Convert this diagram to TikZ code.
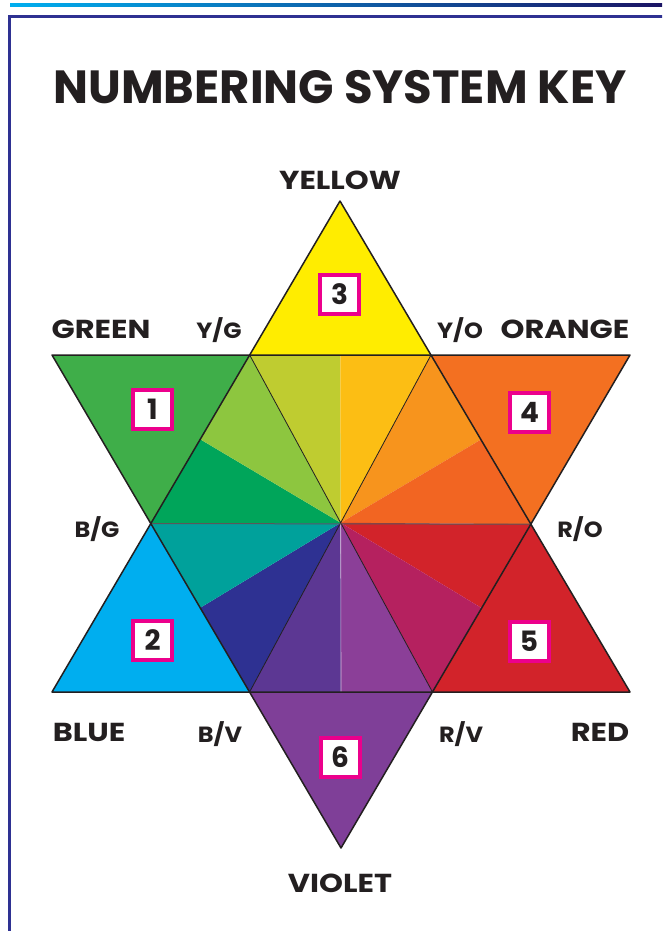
\documentclass[tikz,border=0pt]{standalone}
\usepackage{fontspec}
\setmainfont{Poppins}
\newfontfamily\biglabelfont[FakeStretch=1.17]{Poppins}
\newfontfamily\smalllabelfont[FakeStretch=1.09]{Poppins}
\usetikzlibrary{calc}
\definecolor{ink}{HTML}{231F20}
\definecolor{navy}{HTML}{2E3192}
\definecolor{barL}{HTML}{00AEEF}
\definecolor{barR}{HTML}{1B1464}
\definecolor{pink}{HTML}{EC008C}
\definecolor{cY}{HTML}{FFED00}
\definecolor{cG}{HTML}{3FAE49}
\definecolor{cO}{HTML}{F37021}
\definecolor{cB}{HTML}{00AEEF}
\definecolor{cR}{HTML}{D2232A}
\definecolor{cV}{HTML}{7F3F98}
\definecolor{cYG}{HTML}{BFCC30}
\definecolor{cYO}{HTML}{FCBE14}
\definecolor{cOa}{HTML}{F7941D}
\definecolor{cOb}{HTML}{F26522}
\definecolor{cRa}{HTML}{D2232A}
\definecolor{cRb}{HTML}{B5215F}
\definecolor{cVa}{HTML}{8B3F98}
\definecolor{cVb}{HTML}{5C3793}
\definecolor{cBa}{HTML}{2E3192}
\definecolor{cBb}{HTML}{00A19B}
\definecolor{cGa}{HTML}{00A55A}
\definecolor{cGb}{HTML}{8DC63F}
\tikzset{
  title/.style={anchor=base, inner sep=0, text=ink, font=\fontsize{46.5}{50}\selectfont\bfseries},
  biglabel/.style={anchor=base, inner sep=0, text=ink, font=\biglabelfont\fontsize{26}{28}\selectfont\bfseries},
  smalllabel/.style={anchor=base, inner sep=0, text=ink, font=\smalllabelfont\fontsize{22}{24}\selectfont\bfseries},
  numbox/.style={draw=pink, line width=4pt, fill=white, minimum width=39pt, minimum height=39pt, inner sep=0, text=ink, font=\fontsize{28}{30}\selectfont\bfseries},
  edge/.style={draw=ink, line width=1.5pt, line join=round},
  spoke/.style={draw=ink, line width=0.8pt},
  hspoke/.style={draw=ink!75, line width=1pt}
}
\begin{document}
\begin{tikzpicture}[x=1pt,y=-1pt]
\useasboundingbox (0,0) rectangle (662,931);
\clip (0,0) rectangle (662,931);
\fill[white] (0,0) rectangle (662,931);
% top bar and frame
\shade[left color=barL, right color=barR] (10,4) rectangle (662,6.8);
\draw[navy, line width=2.6pt] (9.7,960) -- (9.7,16.3) -- (700,16.3);
% main points
\coordinate (A) at (340,201);
\coordinate (BL) at (52,692);
\coordinate (BR) at (630,692);
\coordinate (GL) at (52,355);
\coordinate (GR) at (630,355);
\coordinate (V) at (341,848);
\coordinate (TL) at (intersection of A--BL and GL--GR);
\coordinate (TR) at (intersection of A--BR and GL--GR);
\coordinate (L) at (intersection of A--BL and GL--V);
\coordinate (R) at (intersection of A--BR and GR--V);
\coordinate (HBL) at (intersection of GL--V and BL--BR);
\coordinate (HBR) at (intersection of GR--V and BL--BR);
\coordinate (O) at (intersection of TL--HBR and TR--HBL);
\coordinate (Mt) at ($(TL)!.5!(TR)$);
\coordinate (Mtr) at ($(TR)!.5!(R)$);
\coordinate (Mbr) at ($(R)!.5!(HBR)$);
\coordinate (Mb) at ($(HBR)!.5!(HBL)$);
\coordinate (Mbl) at ($(HBL)!.5!(L)$);
\coordinate (Mtl) at ($(L)!.5!(TL)$);
% outer points
\fill[cY] (A) -- (TL) -- (TR) -- cycle;
\fill[cG] (GL) -- (TL) -- (L) -- cycle;
\fill[cO] (TR) -- (GR) -- (R) -- cycle;
\fill[cR] (R) -- (BR) -- (HBR) -- cycle;
\fill[cV] (HBR) -- (V) -- (HBL) -- cycle;
\fill[cB] (HBL) -- (BL) -- (L) -- cycle;
% inner wheel
\fill[cYG] (O) -- (TL) -- (Mt) -- cycle;
\fill[cYO] (O) -- (Mt) -- (TR) -- cycle;
\fill[cOa] (O) -- (TR) -- (Mtr) -- cycle;
\fill[cOb] (O) -- (Mtr) -- (R) -- cycle;
\fill[cRa] (O) -- (R) -- (Mbr) -- cycle;
\fill[cRb] (O) -- (Mbr) -- (HBR) -- cycle;
\fill[cVa] (O) -- (HBR) -- (Mb) -- cycle;
\fill[cVb] (O) -- (Mb) -- (HBL) -- cycle;
\fill[cBa] (O) -- (HBL) -- (Mbl) -- cycle;
\fill[cBb] (O) -- (Mbl) -- (L) -- cycle;
\fill[cGa] (O) -- (L) -- (Mtl) -- cycle;
\fill[cGb] (O) -- (Mtl) -- (TL) -- cycle;
\draw[white!70!cVa, line width=0.6pt] (O) -- (Mb);
% spokes
\draw[spoke] (O) -- (TL) (O) -- (TR) (O) -- (HBL) (O) -- (HBR);
\draw[hspoke] (L) -- (R);
% triangle outlines
\draw[edge] (A) -- (BL) -- (BR) -- cycle;
\draw[edge] (GL) -- (GR) -- (V) -- cycle;
% number boxes
\node[numbox] (n1) at (152.5,409.5) {1};
\node[numbox] (n2) at (152.5,640.5) {2};
\node[numbox] (n3) at (339.5,294.5) {3};
\node[numbox] (n4) at (529.5,412) {4};
\node[numbox] (n5) at (529,641) {5};
\node[numbox] (n6) at (340,757) {6};
% labels
\node[title] (ttl) at (340,103.5) {NUMBERING SYSTEM KEY};
\node[biglabel] (lY) at (340,189) {YELLOW};
\node[biglabel] (lG) at (101,338) {GREEN};
\node[biglabel] (lO) at (565,338) {ORANGE};
\node[biglabel] (lB) at (89,741) {BLUE};
\node[biglabel] (lR) at (600,741) {RED};
\node[biglabel] (lV) at (340,892) {VIOLET};
\node[smalllabel] (lYG) at (219,338) {Y/G};
\node[smalllabel] (lYO) at (460,338) {Y/O};
\node[smalllabel] (lBG) at (97,537) {B/G};
\node[smalllabel] (lRO) at (580,537) {R/O};
\node[smalllabel] (lBV) at (220,742) {B/V};
\node[smalllabel] (lRV) at (461,742) {R/V};
\end{tikzpicture}
\end{document}
